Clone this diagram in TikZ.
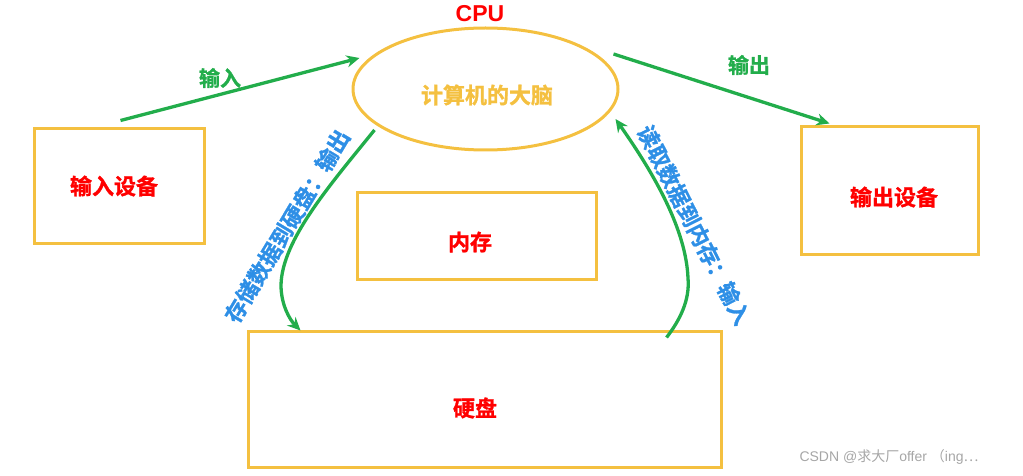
\documentclass[tikz,border=0pt]{standalone}
\usepackage{fontspec}
\setmainfont{Noto Sans CJK SC}[BoldFont={Noto Sans CJK SC Bold}, BoldFeatures={FakeBold=1.2}]
\newfontfamily\latinsans{Liberation Sans}
\usetikzlibrary{shapes.geometric,arrows.meta}
\definecolor{boxc}{HTML}{F4C040}
\definecolor{arrc}{HTML}{22AD4B}
\definecolor{labc}{HTML}{2E8FE6}
\definecolor{redc}{HTML}{FF0000}
\tikzset{
  box/.style={draw=boxc, line width=3pt, minimum width=#1},
  ttl/.style={text=redc, font=\bfseries\fontsize{22}{22}\selectfont},
  arr/.style={draw=arrc, line width=3.3pt, -{Stealth[length=13pt,width=12pt]}},
  glab/.style={text=arrc, font=\bfseries\fontsize{21}{21}\selectfont},
  blab/.style={text=labc, font=\bfseries\fontsize{22}{22}\selectfont, inner sep=0pt},
}
\begin{document}
\begin{tikzpicture}[x=1pt,y=-1pt]
\useasboundingbox (0,0) rectangle (1023,476);
% boxes
\node[box=170pt, minimum height=114pt] (inbox) at (119.5,186) {};
\node[ttl] (intxt) at (114,186) {输入设备};
\node[box=177pt, minimum height=127pt] (outbox) at (889.5,190.5) {};
\node[ttl] (outtxt) at (894,197) {输出设备};
\node[box=239pt, minimum height=87pt] (mem) at (476.5,235.5) {};
\node[ttl] (memtxt) at (470,242) {内存};
\node[box=473pt, minimum height=136pt] (disk) at (484.5,399) {};
\node[ttl] (disktxt) at (475,408) {硬盘};
% cpu
\node[draw=boxc, line width=3pt, ellipse, minimum width=265pt, minimum height=122pt, inner sep=0pt] (cpu) at (485.5,89) {};
\node[text=boxc, font=\bfseries\fontsize{22}{22}\selectfont] (brain) at (487,95) {计算机的大脑};
\node[text=redc, font=\latinsans\bfseries\fontsize{23}{23}\selectfont] (cputxt) at (480,14) {CPU};
% arrows
\draw[arr] ([shift={(1,-7)}]inbox.north) -- ([shift={(8,-31)}]cpu.west);
\node[glab] (inlab) at (220,78) {输入};
\draw[arr] ([shift={(-6,-35)}]cpu.east) -- ([shift={(30,-2)}]outbox.north west);
\node[glab] (outlab) at (749,65) {输出};
% curves
\draw[arr] ([shift={(-111,41)}]cpu.center) .. controls (330,185) and (282,240) .. (281,285)
  .. controls (281,305) and (290,320) .. ([shift={(54,1)}]disk.north west);
\node[blab, rotate=59] (store) at (287,226) {存储数据到硬盘：输出};
\draw[arr] ([shift={(-56,8)}]disk.north east) .. controls (680,320) and (690,300) .. (688,278)
  .. controls (686,230) and (655,175) .. ([shift={(130,30)}]cpu.center);
\node[blab, rotate=-63] (read) at (694,225) {读取数据到内存：输入};
% watermark
\node[text=black!35, font=\fontsize{14}{14}\selectfont] (wm) at (889,457) {{\latinsans CSDN @}求大厂{\latinsans offer }（{\latinsans ing}…};
\end{tikzpicture}
\end{document}
